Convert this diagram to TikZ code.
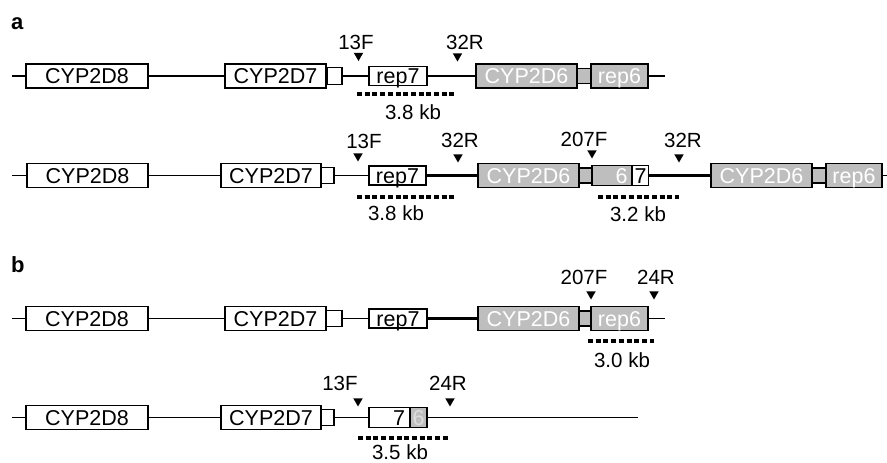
\documentclass[tikz,border=0pt]{standalone}
\usepackage{fontspec}
\setmainfont{Liberation Sans}
\usetikzlibrary{shapes.geometric}
\definecolor{genegray}{RGB}{190,190,190}
\definecolor{faintgray}{RGB}{222,222,222}
\tikzset{
  gene/.style     = {rectangle, draw, line width=1.1pt, fill=white,
                     minimum width=#1, minimum height=24pt, inner sep=0pt,
                     text height=15.5pt, text depth=0pt,
                     font=\fontsize{21.5}{21.5}\selectfont},
  gene/.default   = 100pt,
  cypsix/.style   = {gene=#1, fill=genegray, text=white},
  cypsix/.default = 101pt,
  link/.style     = {rectangle, draw, line width=1.1pt, fill=genegray,
                     minimum width=#1, minimum height=15pt, inner sep=0pt},
  link/.default   = 14pt,
  stub/.style     = {rectangle, draw, line width=1.1pt, fill=white,
                     minimum width=#1, minimum height=16pt, inner sep=0pt},
  stub/.default   = 14pt,
  intergenic/.style = {line width=1.2pt},
  spacer/.style   = {line width=2.6pt},
  primer/.style   = {regular polygon, regular polygon sides=3,
                     shape border rotate=180, fill, inner sep=0pt,
                     minimum size=11pt},
  plabel/.style   = {font=\fontsize{20.5}{20.5}\selectfont, inner sep=0pt},
  amplicon/.style = {line width=3.5pt, dash pattern=on 5pt off 2.7pt},
  panel/.style    = {font=\fontsize{22}{22}\selectfont\bfseries,
                     inner sep=0pt, anchor=base west},
}
\begin{document}
\begin{tikzpicture}[x=1pt, y=-1pt]
  \useasboundingbox (0,0) rectangle (887,463);

  % panel a
  \node[panel] (pa) at (11,30) {a};

  % a, top allele
  \node[gene=122pt] (d8r1)   at (87,76)    {CYP2D8};
  \node[gene=101pt] (d7r1)   at (275.5,76) {CYP2D7};
  \node[stub=15pt, minimum height=17pt] (sqr1) at (334.5,76) {};
  \node[gene=58pt, minimum height=19pt] (rep7r1) at (398,76) {rep7};
  \node[cypsix]     (d6r1)   at (526.5,76) {CYP2D6};
  \node[link]       (lkr1)   at (584,76)   {};
  \node[cypsix=57pt] (rep6r1) at (619.5,76) {rep6};
  \coordinate (r1s) at (12,76);
  \coordinate (r1e) at (665,76);
  \draw[intergenic] (r1s) -- (d8r1.west) (d8r1.east) -- (d7r1.west)
    (sqr1.east) -- (rep7r1.west) (rep6r1.east) -- (r1e);
  \draw[spacer] (rep7r1.east) -- (d6r1.west);

  \node[primer] (f13r1) at (358.5,55.5) {};
  \node[plabel] (f13r1l) at (356,42) {13F};
  \node[primer] (r32r1) at (457.5,56) {};
  \node[plabel] (r32r1l) at (465,42) {32R};
  \coordinate (amp1a) at (357,94);
  \coordinate (amp1b) at (457,94);
  \draw[amplicon] (amp1a) -- (amp1b);
  \node[plabel] (kb1) at (413,112) {3.8 kb};

  % a, duplicated allele
  \node[gene=121pt] (d8r2)   at (87.5,175.5) {CYP2D8};
  \node[gene=100pt] (d7r2)   at (271,175.5)  {CYP2D7};
  \node[stub=13pt]  (sqr2)   at (327.5,175.5) {};
  \node[gene=57pt, minimum height=19pt] (rep7r2) at (397.5,175.5) {rep7};
  \node[cypsix]     (d6r2)   at (528.5,175.5) {CYP2D6};
  \node[link=13pt]  (lkr2)   at (585.5,175.5) {};
  \node[cypsix=40pt, minimum height=20pt, text width=31pt, align=right]
                    (ex6r2)  at (612,175.5)  {6};
  \node[gene=16pt, minimum height=20pt] (ex7r2) at (640.5,175.5) {7};
  \node[cypsix]     (d6r2b)  at (761.5,175.5) {CYP2D6};
  \node[link]       (lkr2b)  at (819,175.5)  {};
  \node[cypsix=56pt] (rep6r2) at (854,175.5) {rep6};
  \coordinate (r2s) at (12,175.5);
  \coordinate (r2e) at (887,175.5);
  \draw[intergenic] (r2s) -- (d8r2.west) (d8r2.east) -- (d7r2.west)
    (sqr2.east) -- (rep7r2.west) (rep6r2.east) -- (r2e);
  \draw[spacer] (rep7r2.east) -- (d6r2.west) (ex7r2.east) -- (d6r2b.west);

  \node[primer] (f13r2) at (358,156) {};
  \node[plabel] (f13r2l) at (364,141) {13F};
  \node[primer] (r32r2) at (458,157) {};
  \node[plabel] (r32r2l) at (460,140.5) {32R};
  \node[primer] (f207r2) at (592,153) {};
  \node[plabel] (f207r2l) at (584,139) {207F};
  \node[primer] (r32r2b) at (679,157) {};
  \node[plabel] (r32r2bl) at (683,140) {32R};
  \coordinate (amp2a) at (357,197);
  \coordinate (amp2b) at (456,197);
  \coordinate (amp3a) at (598,197);
  \coordinate (amp3b) at (679,197);
  \draw[amplicon] (amp2a) -- (amp2b) (amp3a) -- (amp3b);
  \node[plabel] (kb2) at (396,213) {3.8 kb};
  \node[plabel] (kb3) at (638,214) {3.2 kb};

  % panel b
  \node[panel] (pb) at (11,272) {b};

  % b, top allele
  \node[gene=122pt] (d8r3)   at (87,318.5)    {CYP2D8};
  \node[gene=101pt] (d7r3)   at (275.5,318.5) {CYP2D7};
  \node[stub=16pt]  (sqr3)   at (334,318.5)   {};
  \node[gene=58pt, minimum height=19pt] (rep7r3) at (398,318.5) {rep7};
  \node[cypsix]     (d6r3)   at (528.5,318.5) {CYP2D6};
  \node[link=12pt]  (lkr3)   at (585,318.5)   {};
  \node[cypsix=57pt] (rep6r3) at (619.5,318.5) {rep6};
  \coordinate (r3s) at (12,318.5);
  \coordinate (r3e) at (665,318.5);
  \draw[intergenic] (r3s) -- (d8r3.west) (d8r3.east) -- (d7r3.west)
    (sqr3.east) -- (rep7r3.west) (rep6r3.east) -- (r3e);
  \draw[spacer] (rep7r3.east) -- (d6r3.west);

  \node[primer] (f207r3) at (591,294) {};
  \node[plabel] (f207r3l) at (584,277.5) {207F};
  \node[primer] (r24r3) at (654,294) {};
  \node[plabel] (r24r3l) at (656,277.5) {24R};
  \coordinate (amp4a) at (588,341);
  \coordinate (amp4b) at (654,341);
  \draw[amplicon] (amp4a) -- (amp4b);
  \node[plabel] (kb4) at (622,360) {3.0 kb};

  % b, deleted allele
  \node[gene=122pt] (d8r4)   at (87,417.5)    {CYP2D8};
  \node[gene=100pt] (d7r4)   at (271,417.5)   {CYP2D7};
  \node[stub=13pt]  (sqr4)   at (327.5,417.5) {};
  \node[gene=41pt, minimum height=20pt, text width=31pt, align=right]
                    (ex7r4)  at (389.5,417.5) {7};
  \node[gene=17pt, minimum height=20pt, fill=genegray, text=faintgray]
                    (ex6r4)  at (418.5,417.5) {6};
  \coordinate (r4s) at (12,417.5);
  \coordinate (r4e) at (638,417.5);
  \draw[intergenic] (r4s) -- (d8r4.west) (d8r4.east) -- (d7r4.west)
    (sqr4.east) -- (ex7r4.west) (ex6r4.east) -- (r4e);

  \node[primer] (f13r4) at (358,401) {};
  \node[plabel] (f13r4l) at (340,383) {13F};
  \node[primer] (r24r4) at (450,401) {};
  \node[plabel] (r24r4l) at (448,383) {24R};
  \coordinate (amp5a) at (358,438);
  \coordinate (amp5b) at (448,438);
  \draw[amplicon] (amp5a) -- (amp5b);
  \node[plabel] (kb5) at (400,452.5) {3.5 kb};
\end{tikzpicture}
\end{document}
